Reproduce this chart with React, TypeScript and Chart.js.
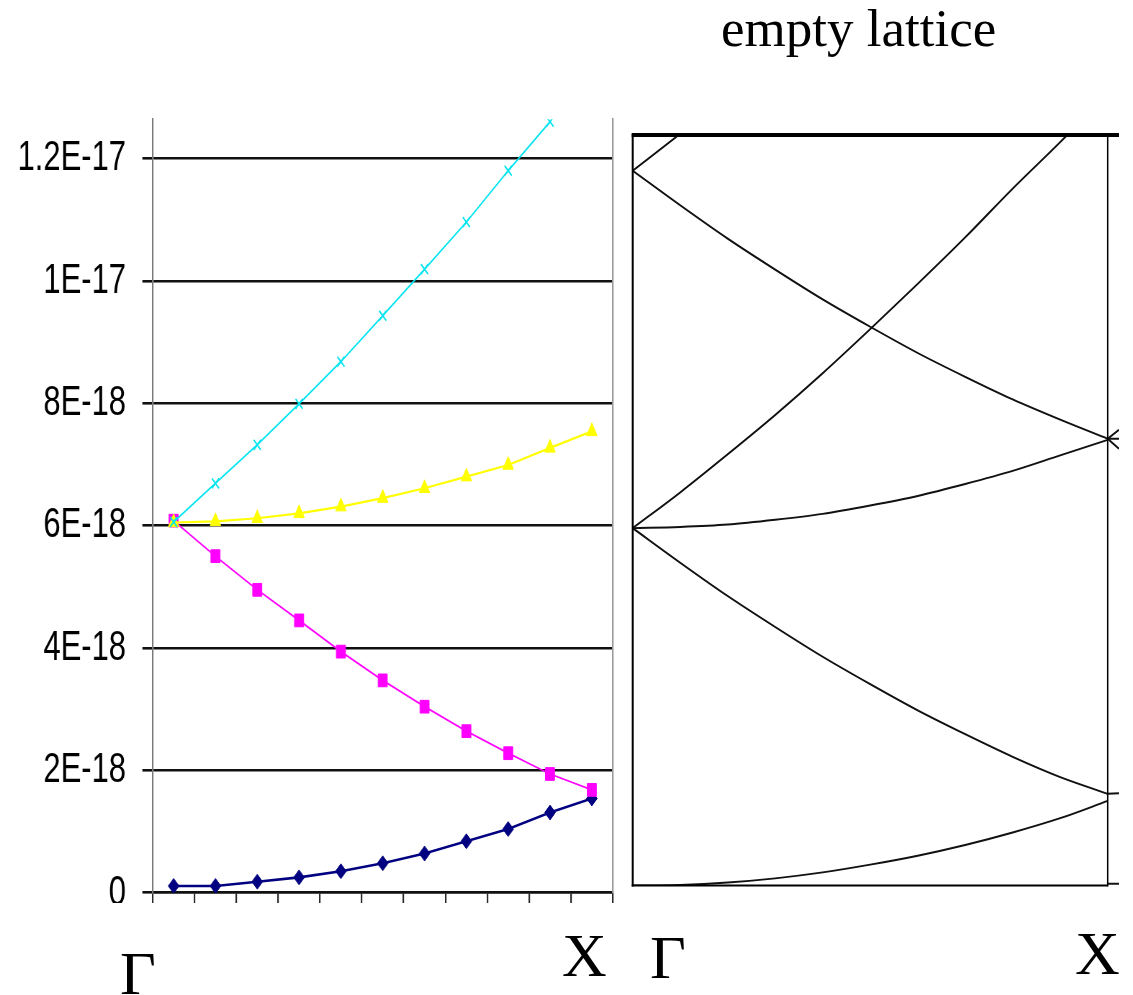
import React, { useEffect, useRef } from 'react';
import { Chart, registerables } from 'chart.js';

Chart.register(...registerables);

// ---------- Left panel (calculated bands, Excel-style) ----------
const categories = ['1', '2', '3', '4', '5', '6', '7', '8', '9', '10', '11'];
const band1 = [0.11, 0.11, 0.18, 0.25, 0.35, 0.48, 0.64, 0.84, 1.04, 1.31, 1.54];
const band2 = [6.08, 5.5, 4.95, 4.45, 3.94, 3.47, 3.04, 2.64, 2.28, 1.94, 1.68];
const band3 = [6.05, 6.07, 6.12, 6.2, 6.31, 6.45, 6.61, 6.8, 6.99, 7.27, 7.54];
const band4 = [6.06, 6.69, 7.32, 7.99, 8.68, 9.43, 10.19, 10.96, 11.8, 12.6, null];
const yTickValues = [0, 2, 4, 6, 8, 10, 12];
const yTickLabels = ['0', '2E-18', '4E-18', '6E-18', '8E-18', '1E-17', '1.2E-17'];
const leftYMax = 12.64;

// ---------- Right panel (empty lattice) ----------
const kFrac = [0, 0.1, 0.2, 0.3, 0.4, 0.5, 0.6, 0.7, 0.8, 0.9, 1.0];
const emptyA = [0, 0.01, 0.05, 0.12, 0.22, 0.35, 0.5, 0.68, 0.89, 1.13, 1.42];
const emptyB = [6.0, 5.42, 4.86, 4.34, 3.84, 3.38, 2.94, 2.54, 2.16, 1.82, 1.54];
const emptyC = [6.0, 6.02, 6.06, 6.14, 6.24, 6.38, 6.54, 6.74, 6.96, 7.22, 7.48];
const emptyD = [6.0, 6.6, 7.24, 7.9, 8.6, 9.34, 10.1, 10.88, 11.7, 12.48, 13.3];
const emptyE = [12.0, 11.42, 10.86, 10.34, 9.84, 9.38, 8.94, 8.54, 8.16, 7.82, 7.5];
const emptyF = [12.0, 12.62, 13.26, null, null, null, null, null, null, null, null];
const beyondK = [1.0, 1.0238];
const beyondUp = [7.5, 7.65];
const beyondFlat = [7.5, 7.5];
const beyondDown = [7.5, 7.33];
const beyondLow = [1.54, 1.55];
const beyondBottom = [0.03, 0.03];
const zonePoints = [0, 1];
const rightYMax = 12.6;
const rightKMax = 1.0238;

const SX = 0.72;
const L_W = 855;
const L_H = 791;

const framePlugin = {
  id: 'latticeFrame',
  afterDatasetsDraw(chart: any) {
    const { ctx, scales } = chart;
    const xs = scales.x;
    const ys = scales.y;
    const xG = xs.getPixelForValue(zonePoints[0]);
    const xX = xs.getPixelForValue(zonePoints[1]);
    const xEnd = xs.getPixelForValue(xs.max);
    const yB = ys.getPixelForValue(ys.min);
    const yT = ys.getPixelForValue(ys.max);
    const seg = (x1: number, y1: number, x2: number, y2: number, w: number) => {
      ctx.beginPath();
      ctx.lineWidth = w;
      ctx.moveTo(x1, y1);
      ctx.lineTo(x2, y2);
      ctx.stroke();
    };
    ctx.save();
    ctx.strokeStyle = '#000';
    ctx.lineCap = 'butt';
    seg(xG, yT - 1, xG, yB + 1, 2);
    seg(xG - 1, yB, xX, yB, 2);
    seg(xX, yT, xX, yB + 1, 1.5);
    seg(xG - 1, yT, xEnd, yT, 4);
    ctx.restore();
  },
};

function toXY(ks: number[], ys: (number | null)[]) {
  return ks.map((k, i) => ({ x: k, y: ys[i] }));
}

export default function App() {
  const leftRef = useRef<HTMLCanvasElement | null>(null);
  const rightRef = useRef<HTMLCanvasElement | null>(null);

  useEffect(() => {
    const leftCanvas = leftRef.current;
    const rightCanvas = rightRef.current;
    if (!leftCanvas || !rightCanvas) return;

    const mk = (data: (number | null)[], color: string, style: string, radius: number, width: number, order: number) => ({
      data,
      borderColor: color,
      backgroundColor: color,
      borderWidth: width,
      pointStyle: style,
      pointRadius: radius,
      pointBorderColor: color,
      pointBackgroundColor: color,
      pointBorderWidth: style === 'crossRot' ? 1.8 : 1,
      spanGaps: false,
      tension: 0,
      order,
    });

    const left = new Chart(leftCanvas, {
      type: 'line',
      data: {
        labels: categories,
        datasets: [
          mk(band1, '#000080', 'rectRot', 7.5, 2.6, 4),
          mk(band2, '#ff00ff', 'rect', 9, 1.8, 3),
          mk(band3, '#ffff00', 'triangle', 8.5, 2.2, 2),
          mk(band4, '#00e4f0', 'crossRot', 7, 1.8, 1),
        ] as any,
      },
      options: {
        animation: false,
        responsive: false,
        devicePixelRatio: 1,
        events: [],
        layout: { padding: { top: 7.3, right: 4, bottom: 0, left: 0 }, autoPadding: false },
        plugins: { legend: { display: false }, tooltip: { enabled: false }, title: { display: false } },
        scales: {
          x: {
            type: 'category',
            offset: true,
            grid: {
              display: true,
              offset: true,
              drawOnChartArea: false,
              drawTicks: true,
              tickLength: 10.3,
              color: '#2a2a2a',
              lineWidth: 2.2,
            },
            border: { display: true, color: '#111', width: 2.5 },
            ticks: { display: false },
            afterFit: (s: any) => {
              s.height = 10.3;
              s.paddingLeft = 0;
              s.paddingRight = 0;
            },
          },
          y: {
            type: 'linear',
            position: 'left',
            min: 0,
            max: leftYMax,
            afterBuildTicks: (s: any) => {
              s.ticks = yTickValues.map((v) => ({ value: v }));
            },
            ticks: {
              callback: (v: any) => {
                const i = yTickValues.indexOf(Number(v));
                return i >= 0 ? yTickLabels[i] : '';
              },
              font: { family: "'Liberation Sans', Arial, sans-serif", size: 43 },
              color: '#000',
              padding: 22.7,
            },
            grid: { color: '#111', lineWidth: 2.6, tickLength: 14.4, drawTicks: true },
            border: { display: true, color: '#7a7a7a', width: 2.2 },
            afterFit: (s: any) => {
              s.width = 212.1;
              s.paddingTop = 0;
              s.paddingBottom = 0;
            },
          },
          y2: {
            type: 'linear',
            position: 'right',
            display: true,
            grid: { display: false, drawTicks: false },
            ticks: { display: false },
            border: { display: true, color: '#9a9a9a', width: 2.2 },
            afterFit: (s: any) => {
              s.width = 0;
              s.paddingTop = 0;
              s.paddingBottom = 0;
            },
          },
        },
      } as any,
    });

    const line = (data: any[]) => ({
      data,
      borderColor: '#111',
      borderWidth: 1.9,
      pointRadius: 0,
      cubicInterpolationMode: 'monotone',
      spanGaps: false,
    });

    const right = new Chart(rightCanvas, {
      type: 'line',
      data: {
        datasets: [
          line(toXY(kFrac, emptyA)),
          line(toXY(kFrac, emptyB)),
          line(toXY(kFrac, emptyC)),
          line(toXY(kFrac, emptyD)),
          line(toXY(kFrac, emptyE)),
          line(toXY(kFrac, emptyF)),
          line(toXY(beyondK, beyondUp)),
          line(toXY(beyondK, beyondFlat)),
          line(toXY(beyondK, beyondDown)),
          line(toXY(beyondK, beyondLow)),
          line(toXY(beyondK, beyondBottom)),
        ] as any,
      },
      options: {
        animation: false,
        responsive: false,
        devicePixelRatio: 1,
        events: [],
        layout: { padding: { left: 12.7, top: 15, right: 11, bottom: 14.5 }, autoPadding: false },
        plugins: { legend: { display: false }, tooltip: { enabled: false }, title: { display: false } },
        scales: {
          x: { type: 'linear', min: 0, max: rightKMax, display: false },
          y: { type: 'linear', min: 0, max: rightYMax, display: false },
        },
      } as any,
      plugins: [framePlugin as any],
    });

    return () => {
      left.destroy();
      right.destroy();
    };
  }, []);

  const serif = "'Liberation Serif', 'Times New Roman', serif";
  const label = (text: string, left: number, top: number, size: number) => (
    <div
      style={{
        position: 'absolute',
        left,
        top,
        fontFamily: serif,
        fontSize: size,
        lineHeight: `${size}px`,
        color: '#000',
        whiteSpace: 'nowrap',
      }}
    >
      {text}
    </div>
  );

  return (
    <div
      style={{
        position: 'absolute',
        left: 0,
        top: 0,
        width: 1133,
        height: 995,
        background: '#fff',
        overflow: 'hidden',
      }}
    >
      <div
        style={{
          position: 'absolute',
          left: 0,
          top: 112,
          width: L_W,
          height: L_H,
          transform: `scaleX(${SX})`,
          transformOrigin: '0 0',
        }}
      >
        <canvas ref={leftRef} width={L_W} height={L_H} style={{ display: 'block' }} />
      </div>
      <canvas
        ref={rightRef}
        width={510}
        height={780}
        style={{ position: 'absolute', left: 620, top: 120, display: 'block' }}
      />
      {label('empty lattice', 721, 2.3, 53)}
      {label('Γ', 120, 941.9, 62)}
      {label('X', 562, 924.1, 62)}
      {label('Γ', 650, 925.8, 62)}
      {label('X', 1075, 922.1, 62)}
    </div>
  );
}
